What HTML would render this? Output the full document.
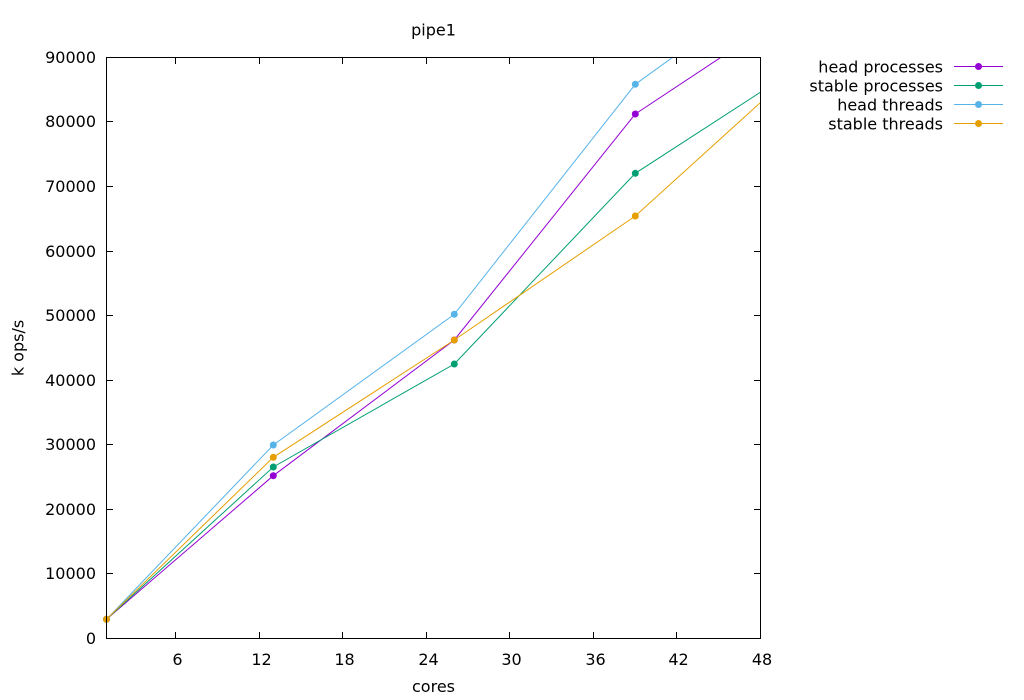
<!DOCTYPE html>
<html>
<head>
<meta charset="utf-8">
<style>
html,body{margin:0;padding:0;background:#fff;}
svg{display:block;}
text{font-family:"DejaVu Sans","Liberation Sans",sans-serif;font-size:16px;fill:#000;}
</style>
</head>
<body>
<svg width="1024" height="700" viewBox="0 0 1024 700" xmlns="http://www.w3.org/2000/svg">
<defs>
<clipPath id="pc"><rect x="106.5" y="57.5" width="654" height="581"/></clipPath>
</defs>
<rect x="0" y="0" width="1024" height="700" fill="#fff"/>

<!-- title -->
<text x="433.5" y="35.5" text-anchor="middle">pipe1</text>

<!-- y ticks -->
<g stroke="#000" stroke-width="1">
<line x1="106.5" y1="573.5" x2="113" y2="573.5"/><line x1="760.5" y1="573.5" x2="754" y2="573.5"/>
<line x1="106.5" y1="509.5" x2="113" y2="509.5"/><line x1="760.5" y1="509.5" x2="754" y2="509.5"/>
<line x1="106.5" y1="444.5" x2="113" y2="444.5"/><line x1="760.5" y1="444.5" x2="754" y2="444.5"/>
<line x1="106.5" y1="380.5" x2="113" y2="380.5"/><line x1="760.5" y1="380.5" x2="754" y2="380.5"/>
<line x1="106.5" y1="315.5" x2="113" y2="315.5"/><line x1="760.5" y1="315.5" x2="754" y2="315.5"/>
<line x1="106.5" y1="251.5" x2="113" y2="251.5"/><line x1="760.5" y1="251.5" x2="754" y2="251.5"/>
<line x1="106.5" y1="186.5" x2="113" y2="186.5"/><line x1="760.5" y1="186.5" x2="754" y2="186.5"/>
<line x1="106.5" y1="121.5" x2="113" y2="121.5"/><line x1="760.5" y1="121.5" x2="754" y2="121.5"/>
<!-- x ticks -->
<line x1="175.5" y1="638.5" x2="175.5" y2="632"/><line x1="175.5" y1="57.5" x2="175.5" y2="64"/>
<line x1="259.5" y1="638.5" x2="259.5" y2="632"/><line x1="259.5" y1="57.5" x2="259.5" y2="64"/>
<line x1="342.5" y1="638.5" x2="342.5" y2="632"/><line x1="342.5" y1="57.5" x2="342.5" y2="64"/>
<line x1="426.5" y1="638.5" x2="426.5" y2="632"/><line x1="426.5" y1="57.5" x2="426.5" y2="64"/>
<line x1="509.5" y1="638.5" x2="509.5" y2="632"/><line x1="509.5" y1="57.5" x2="509.5" y2="64"/>
<line x1="593.5" y1="638.5" x2="593.5" y2="632"/><line x1="593.5" y1="57.5" x2="593.5" y2="64"/>
<line x1="676.5" y1="638.5" x2="676.5" y2="632"/><line x1="676.5" y1="57.5" x2="676.5" y2="64"/>
</g>

<!-- y tick labels -->
<g text-anchor="end">
<text x="96" y="644">0</text>
<text x="96" y="579">10000</text>
<text x="96" y="515">20000</text>
<text x="96" y="450">30000</text>
<text x="96" y="386">40000</text>
<text x="96" y="321">50000</text>
<text x="96" y="257">60000</text>
<text x="96" y="192">70000</text>
<text x="96" y="127">80000</text>
<text x="96" y="63">90000</text>
</g>

<!-- x tick labels -->
<g text-anchor="middle">
<text x="177.5" y="665">6</text>
<text x="261.5" y="665">12</text>
<text x="344.5" y="665">18</text>
<text x="428.5" y="665">24</text>
<text x="511.5" y="665">30</text>
<text x="595.5" y="665">36</text>
<text x="678.5" y="665">42</text>
<text x="762" y="665">48</text>
</g>

<!-- axis labels -->
<text x="433.5" y="692" text-anchor="middle">cores</text>
<text transform="translate(23.5,348) rotate(-90)" text-anchor="middle">k ops/s</text>

<!-- series lines -->
<g clip-path="url(#pc)" fill="none" stroke-width="1">
<polyline stroke="#9400d3" points="106.5,619.3 273.3,475.7 454.3,340 635.3,114 800,5"/>
<polyline stroke="#009e73" points="106.5,619.3 273.3,467 454.3,364 635.3,173.3 800,66.6"/>
<polyline stroke="#56b4e9" points="106.5,619.3 273.3,445 454.3,314.3 635.3,84.3 800,-34.6"/>
<polyline stroke="#e69f00" points="106.5,619.3 273.3,457.3 454.3,340 635.3,216 800,66.7"/>
</g>

<!-- markers -->
<g fill="#9400d3">
<circle cx="106.5" cy="619.3" r="3.5"/><circle cx="273.3" cy="475.7" r="3.5"/><circle cx="454.3" cy="340" r="3.5"/><circle cx="635.3" cy="114" r="3.5"/>
</g>
<g fill="#009e73">
<circle cx="106.5" cy="619.3" r="3.5"/><circle cx="273.3" cy="467" r="3.5"/><circle cx="454.3" cy="364" r="3.5"/><circle cx="635.3" cy="173.3" r="3.5"/>
</g>
<g fill="#56b4e9">
<circle cx="106.5" cy="619.3" r="3.5"/><circle cx="273.3" cy="445" r="3.5"/><circle cx="454.3" cy="314.3" r="3.5"/><circle cx="635.3" cy="84.3" r="3.5"/>
</g>
<g fill="#e69f00">
<circle cx="106.5" cy="619.3" r="3.5"/><circle cx="273.3" cy="457.3" r="3.5"/><circle cx="454.3" cy="340" r="3.5"/><circle cx="635.3" cy="216" r="3.5"/>
</g>

<!-- frame -->
<rect x="106.5" y="57.5" width="654" height="581" fill="none" stroke="#000" stroke-width="1"/>

<!-- legend -->
<g text-anchor="end">
<text x="943" y="72.5">head processes</text>
<text x="943" y="91.5">stable processes</text>
<text x="943" y="110.5">head threads</text>
<text x="943" y="129.5">stable threads</text>
</g>
<line x1="954" y1="66.5" x2="1003" y2="66.5" stroke="#9400d3"/><circle cx="978.5" cy="66.5" r="3.5" fill="#9400d3"/>
<line x1="954" y1="85.5" x2="1003" y2="85.5" stroke="#009e73"/><circle cx="978.5" cy="85.5" r="3.5" fill="#009e73"/>
<line x1="954" y1="104.5" x2="1003" y2="104.5" stroke="#56b4e9"/><circle cx="978.5" cy="104.5" r="3.5" fill="#56b4e9"/>
<line x1="954" y1="123.5" x2="1003" y2="123.5" stroke="#e69f00"/><circle cx="978.5" cy="123.5" r="3.5" fill="#e69f00"/>
</svg>
</body>
</html>
